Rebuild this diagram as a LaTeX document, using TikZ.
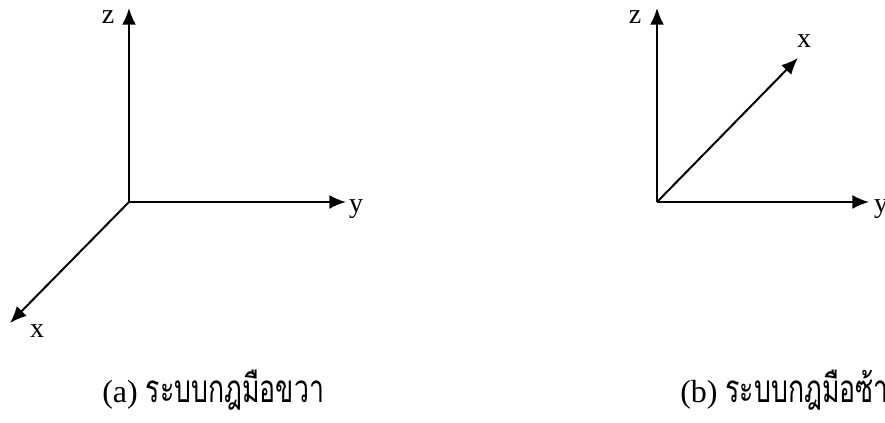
\documentclass[tikz,border=0pt]{standalone}
\usepackage{fontspec}
\setmainfont{Liberation Serif}
\newfontfamily\thaifont[Script=Thai,FakeStretch=0.69]{Loma}
\usepackage{tikz}
\usetikzlibrary{arrows.meta}
\tikzset{axis/.style={-{Latex[length=12.5pt,width=10.5pt]},line width=1.5pt},
  lbl/.style={font=\fontsize{21}{24}\selectfont,inner sep=0pt,anchor=base},
  captext/.style={font=\fontsize{24}{28}\selectfont,anchor=base west,inner sep=0pt}}

\begin{document}
\begin{tikzpicture}[x=0.75pt,y=-0.75pt]
  \useasboundingbox (0,0) rectangle (885,423);
  % right handed
  \coordinate (oa) at (129,202);
  \coordinate (za) at (129,8);
  \coordinate (ya) at (346,202);
  \coordinate (xa) at (10,323);
	\draw[axis] (oa) to (za);
	\draw[axis] (oa) to (ya);
	\draw[axis] (oa) to (xa);
  \node[lbl] (zal) at (108,24) {z};
  \node[lbl] (yal) at (356,213) {y};
  \node[lbl] (xal) at (37,338) {x};
  \node[captext] (capa) at (102,403) {(a) {\thaifont\fontsize{29}{32}\selectfont ระบบกฎมือขวา}};
  % left handed
  \coordinate (ob) at (657,202);
  \coordinate (zb) at (657,8);
  \coordinate (yb) at (869,202);
  \coordinate (xb) at (798,58);
	\draw[axis] (ob) to (zb);
	\draw[axis] (ob) to (yb);
	\draw[axis] (ob) to (xb);
  \node[lbl] (zbl) at (635,24) {z};
  \node[lbl] (ybl) at (881,213) {y};
  \node[lbl] (xbl) at (804,48) {x};
  \node[captext] (capb) at (680,403) {(b) {\thaifont\fontsize{29}{32}\selectfont ระบบกฎมือซ้าย}};
\end{tikzpicture}
\end{document}
